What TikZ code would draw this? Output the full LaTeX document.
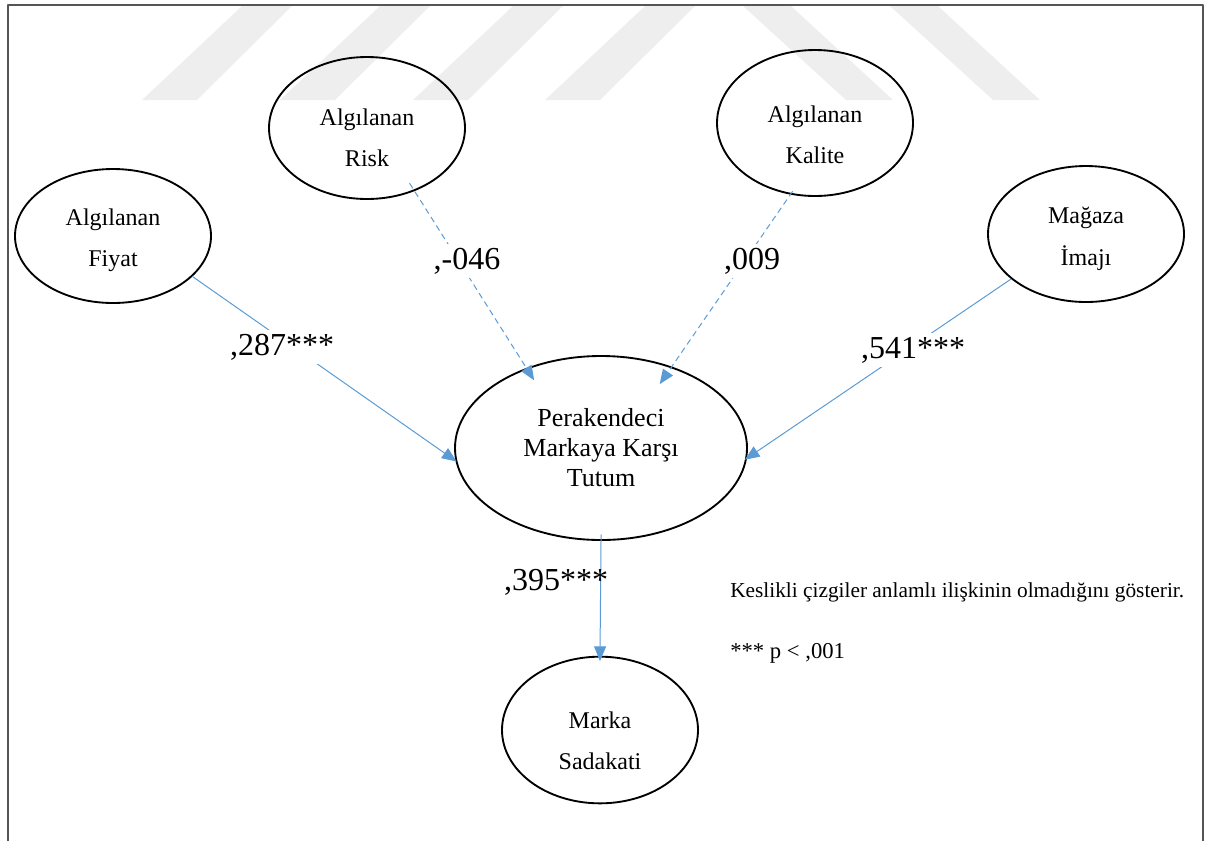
\documentclass[tikz,border=0pt]{standalone}
\usepackage{fontspec}
\setmainfont{Liberation Serif}
\usetikzlibrary{shapes.geometric,arrows.meta,positioning}
\definecolor{okmavi}{RGB}{91,155,213}
\definecolor{filigran}{RGB}{238,238,238}
\definecolor{cerceve}{RGB}{85,85,85}
\tikzset{
	gizil/.style={draw, ellipse, line width=1.4pt, inner sep=0pt, minimum width=147pt},
	gizilmetin/.style={align=center, inner sep=0pt, font=\fontsize{18}{31}\selectfont},
	yol/.style={draw=okmavi, line width=0.75pt, -{Triangle[length=11pt,width=9pt]}},
	yoldash/.style={yol, dash pattern=on 4.5pt off 3pt},
	katsayi/.style={font=\fontsize{24}{28}\selectfont, inner sep=3pt},
	beyaz/.style={fill=white},
	aciklama/.style={anchor=base west, inner sep=0pt}
}
\begin{document}
\begin{tikzpicture}[x=0.75pt, y=-0.75pt, line join=round, line cap=butt]
	\useasboundingbox (0,0) rectangle (1209,840);
	% filigran
	\foreach \a in {142,280,413,545}{\fill[filigran] (\a,100) -- (\a+55,100) -- (\a+150,6) -- (\a+100,6) -- cycle;}
	\foreach \b in {743,890}{\fill[filigran] (\b,6) -- (\b+48,6) -- (\b+150,100) -- (\b+103,100) -- cycle;}
	\draw[cerceve, line width=1.2pt] (8,845) -- (8,5) -- (1203,5) -- (1203,845);
	% gizil degiskenler
	\foreach \n/\x/\y/\h/\ty/\t in {fiyat/113/236/100.5/240/{Algılanan\\Fiyat},
		risk/367/128/106.5/138/{Algılanan\\Risk},
		kalite/815/123/109.5/135/{Algılanan\\Kalite},
		magaza/1086/234/102/239/{Mağaza\\İmajı},
		marka/600/730/110/741/{Marka\\Sadakati}}{
		\node[gizil, minimum height=\h pt] (\n) at (\x,\y) {};
		\node[gizilmetin] (\n-m) at (\x,\ty) {\t};}
	\node[gizil, minimum width=219pt, minimum height=138pt, align=center, font=\fontsize{19.5}{22.5}\selectfont] (tutum) at (601,448) {Perakendeci\\Markaya Karşı\\Tutum};
	% yollar
	\draw[yol, shorten >=-1pt] (fiyat.-27) -- (tutum.185);
	\draw[yoldash, shorten <=-7pt, shorten >=-11pt] (risk.-53) -- (tutum.133);
	\draw[yoldash, shorten <=-3pt, shorten >=-16pt] (kalite.-109) -- (tutum.49);
	\draw[yol, shorten >=-2pt] (magaza.211) -- (tutum.-4);
	\draw[yol, shorten <=-5pt, shorten >=-4pt] (tutum.-90) -- (marka.north);
	% katsayilar
	\node[katsayi, beyaz] (k287) at (282,347) {,287***};
	\node[katsayi, beyaz] (k046) at (467,261) {,-046};
	\node[katsayi, beyaz] (k009) at (752,261) {,009};
	\node[katsayi, beyaz] (k541) at (913,350) {,541***};
	\node[katsayi] (k395) at (556,582) {,395***};
	\node[aciklama, font=\fontsize{16}{19}\selectfont] (not1) at (730,597) {Keslikli çizgiler anlamlı ilişkinin olmadığını gösterir.};
	\node[aciklama, font=\fontsize{17}{20}\selectfont] (not2) at (730,658) {*** p < ,001};
\end{tikzpicture}
\end{document}
